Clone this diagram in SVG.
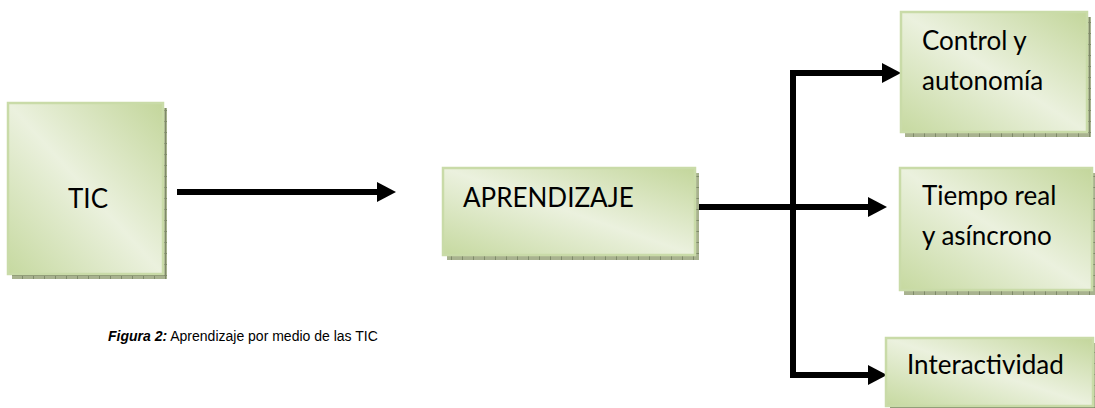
<svg xmlns="http://www.w3.org/2000/svg" width="1095" height="408" viewBox="0 0 1095 408">
  <defs>
    <linearGradient id="gfill" x1="1" y1="0" x2="0" y2="1">
      <stop offset="0" stop-color="#c3d69b"/>
      <stop offset="0.5" stop-color="#ebf1de"/>
      <stop offset="1" stop-color="#c6d9a0"/>
    </linearGradient>
    <pattern id="shadowPat" width="11" height="11" patternUnits="userSpaceOnUse">
      <rect width="11" height="11" fill="#a8b28f"/>
      <rect x="0" y="0" width="1" height="11" fill="#7f8a6a"/>
      <rect x="0" y="0" width="11" height="1" fill="#7f8a6a"/>
    </pattern>
    <marker id="arrow" viewBox="0 0 19 20" refX="0" refY="10" markerWidth="19" markerHeight="20" markerUnits="userSpaceOnUse" orient="auto-start-reverse">
      <path d="M0,0 L19,10 L0,20 z" fill="#000"/>
    </marker>
  </defs>
  <style>
    .shadow { fill: url(#shadowPat); }
    .box { fill: url(#gfill); stroke: #c9dba8; stroke-width: 2.5; }
    .label { font-family: Lato, "Noto Sans", sans-serif; font-size: 26px; fill: #000; }
    .conn { fill: none; stroke: #000; stroke-width: 6; stroke-linejoin: miter; stroke-linecap: butt; }
    .cap { font-family: "Liberation Sans", Arial, sans-serif; font-size: 14px; fill: #000; }
  </style>

  <g id="connectors">
    <path class="conn" d="M177,192 H377" marker-end="url(#arrow)"/>
    <path class="conn" d="M696,207 H868" marker-end="url(#arrow)"/>
    <path class="conn" d="M882,73 H793 V375 H868" marker-start="url(#arrow)" marker-end="url(#arrow)"/>
  </g>

  <g id="node-tic">
    <rect class="shadow" x="12" y="108" width="155" height="171"/>
    <rect class="box" x="8" y="103" width="155" height="171"/>
    <text class="label" x="68" y="208">TIC</text>
  </g>

  <g id="node-aprendizaje">
    <rect class="shadow" x="447" y="173" width="252" height="87"/>
    <rect class="box" x="443" y="168" width="252" height="87"/>
    <text class="label" x="463" y="207">APRENDIZAJE</text>
  </g>

  <g id="node-control">
    <rect class="shadow" x="905" y="17" width="186" height="120"/>
    <rect class="box" x="901" y="12" width="186" height="120"/>
    <text class="label" x="922" y="50">Control y</text>
    <text class="label" x="922" y="90">autonomía</text>
  </g>

  <g id="node-tiempo">
    <rect class="shadow" x="904" y="173" width="192" height="122"/>
    <rect class="box" x="900" y="168" width="192" height="122"/>
    <text class="label" x="922" y="205">Tiempo real</text>
    <text class="label" x="922" y="245">y asíncrono</text>
  </g>

  <g id="node-interactividad">
    <rect class="shadow" x="890" y="343" width="208" height="70"/>
    <rect class="box" x="886" y="338" width="207" height="68"/>
    <text class="label" x="907" y="374">Interactividad</text>
  </g>

  <g id="caption">
    <text class="cap" x="108" y="341"><tspan font-weight="bold" font-style="italic">Figura 2:</tspan> Aprendizaje por medio de las TIC</text>
  </g>
</svg>
